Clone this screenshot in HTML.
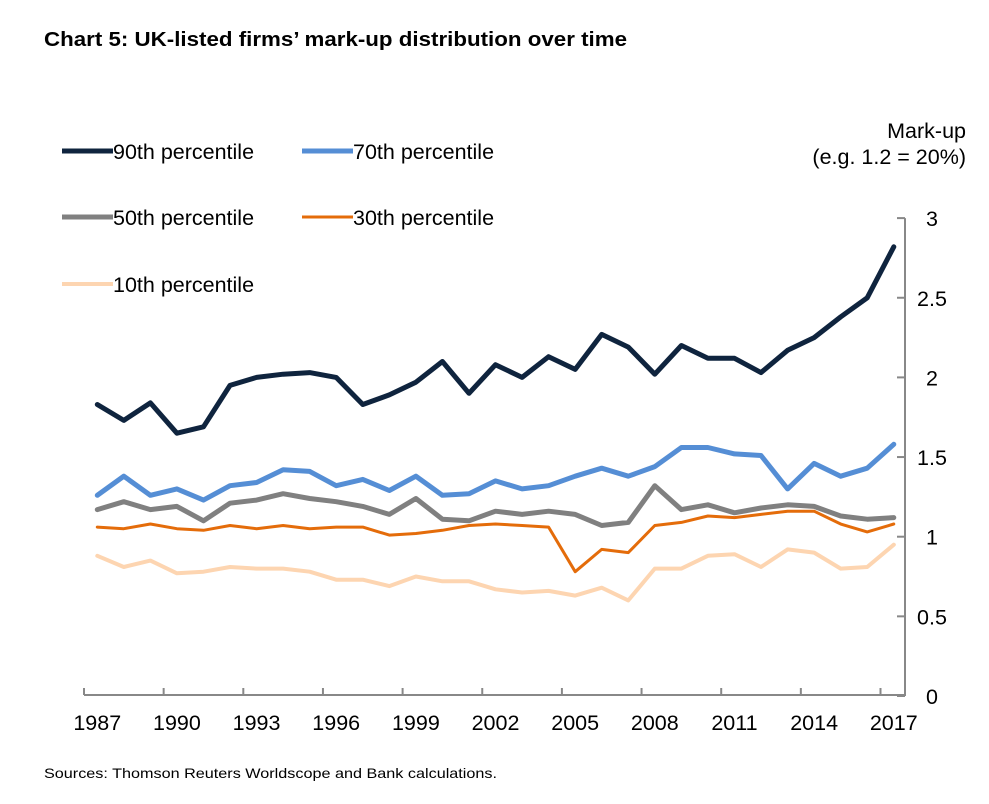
<!DOCTYPE html>
<html><head><meta charset="utf-8"><style>
body{margin:0;background:#fff;width:989px;height:799px;overflow:hidden;font-family:"Liberation Sans",sans-serif}
</style></head><body>
<svg width="989" height="799" xmlns="http://www.w3.org/2000/svg">
<text x="44" y="46" font-family="'Liberation Sans',sans-serif" font-weight="bold" font-size="20" textLength="583" lengthAdjust="spacingAndGlyphs" fill="#000">Chart 5:  UK-listed firms’ mark-up distribution over time</text>
<text x="966" y="138" text-anchor="end" font-size="21.5" fill="#000">Mark-up</text>
<text x="966" y="164" text-anchor="end" font-size="21.5" fill="#000">(e.g. 1.2 = 20%)</text>
<g id="legend"></g>
<g id="axes"></g>
<g id="series"></g>
<text x="44" y="778" font-size="14" textLength="453" lengthAdjust="spacingAndGlyphs" fill="#000">Sources:  Thomson Reuters Worldscope and Bank calculations.</text>
</svg>
<script>
const years=[1987,1988,1989,1990,1991,1992,1993,1994,1995,1996,1997,1998,1999,2000,2001,2002,2003,2004,2005,2006,2007,2008,2009,2010,2011,2012,2013,2014,2015,2016,2017];
const p90=[1.83,1.73,1.84,1.65,1.69,1.95,2.0,2.02,2.03,2.0,1.83,1.89,1.97,2.1,1.9,2.08,2.0,2.13,2.05,2.27,2.19,2.02,2.2,2.12,2.12,2.03,2.17,2.25,2.38,2.5,2.82];
const p70=[1.26,1.38,1.26,1.30,1.23,1.32,1.34,1.42,1.41,1.32,1.36,1.29,1.38,1.26,1.27,1.35,1.30,1.32,1.38,1.43,1.38,1.44,1.56,1.56,1.52,1.51,1.30,1.46,1.38,1.43,1.58];
const p50=[1.17,1.22,1.17,1.19,1.10,1.21,1.23,1.27,1.24,1.22,1.19,1.14,1.24,1.11,1.10,1.16,1.14,1.16,1.14,1.07,1.09,1.32,1.17,1.20,1.15,1.18,1.20,1.19,1.13,1.11,1.12];
const p30=[1.06,1.05,1.08,1.05,1.04,1.07,1.05,1.07,1.05,1.06,1.06,1.01,1.02,1.04,1.07,1.08,1.07,1.06,0.78,0.92,0.90,1.07,1.09,1.13,1.12,1.14,1.16,1.16,1.08,1.03,1.08];
const p10=[0.88,0.81,0.85,0.77,0.78,0.81,0.80,0.80,0.78,0.73,0.73,0.69,0.75,0.72,0.72,0.67,0.65,0.66,0.63,0.68,0.60,0.80,0.80,0.88,0.89,0.81,0.92,0.90,0.80,0.81,0.95];
const yTicks=[0,0.5,1,1.5,2,2.5,3];
const xLabels=[1987,1990,1993,1996,1999,2002,2005,2008,2011,2014,2017];
const NS='http://www.w3.org/2000/svg';
const catW=26.55, x0=84;
function xS(i){return x0+catW*(i+0.5);}
function yS(v){return 696-159.3*v;}
function el(t,a,p){const e=document.createElementNS(NS,t);for(const k in a)e.setAttribute(k,a[k]);p.appendChild(e);return e;}
const axes=document.getElementById('axes');
const ax=el('line',{x1:905,y1:yS(3),x2:905,y2:696,stroke:'#888','stroke-width':2},axes);


yTicks.forEach(v=>{
 const t=el('line',{x1:897,x2:905,y1:yS(v),y2:yS(v),stroke:'#888','stroke-width':2},axes);
 
 
 const l=el('text',{x:932,y:yS(v)+8,'font-size':21.5,'text-anchor':'middle'},axes);
 l.textContent=String(v);
 
 
});
const bx=el('line',{x1:x0,y1:695,x2:905,y2:695,stroke:'#888','stroke-width':2},axes);


xLabels.forEach(y=>{
 const i=years.indexOf(y);
 const t=el('line',{x1:x0+catW*i,x2:x0+catW*i,y1:688,y2:695,stroke:'#888','stroke-width':2},axes);
 
 
 const l=el('text',{x:xS(i),y:730,'font-size':21.5,'text-anchor':'middle'},axes);
 l.textContent=String(y);
 
 
});
const series=[
 {d:p10,c:'#FDD5B1',w:4,n:'10th percentile',lx:62,ly:284},
 {d:p30,c:'#E46C0A',w:3,n:'30th percentile',lx:302,ly:217},
 {d:p50,c:'#808080',w:5,n:'50th percentile',lx:62,ly:217},
 {d:p70,c:'#558ED5',w:5,n:'70th percentile',lx:302,ly:151},
 {d:p90,c:'#0F243E',w:5,n:'90th percentile',lx:62,ly:151}
];
const sg=document.getElementById('series'), lg=document.getElementById('legend');
series.forEach(s=>{
 const pts=s.d.map((v,i)=>xS(i).toFixed(1)+','+yS(v).toFixed(1)).join(' ');
 const pl=el('polyline',{points:pts,fill:'none',stroke:s.c,'stroke-width':s.w,'stroke-linejoin':'round','stroke-linecap':'round'},sg);
 
 
 const ll=el('line',{x1:s.lx,x2:s.lx+51,y1:s.ly,y2:s.ly,stroke:s.c,'stroke-width':s.w},lg);
 
 
 const lt=el('text',{x:s.lx+51,y:s.ly+8,'font-size':21.5},lg);
 lt.textContent=s.n;
 
 
});
</script>
</body></html>
